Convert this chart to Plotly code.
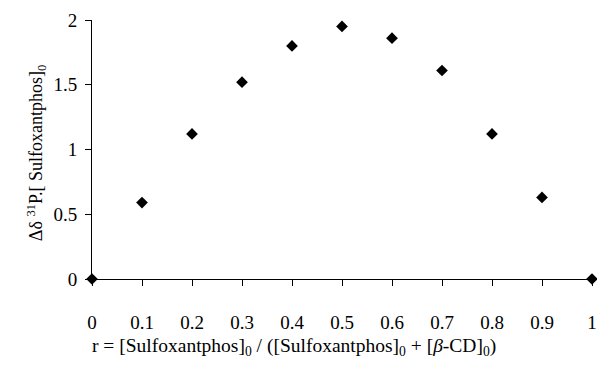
import plotly.graph_objects as go

r_values = [0, 0.1, 0.2, 0.3, 0.4, 0.5, 0.6, 0.7, 0.8, 0.9, 1.0]
delta_values = [0, 0.59, 1.12, 1.52, 1.80, 1.95, 1.86, 1.61, 1.12, 0.63, 0]
x_ticks = [0, 0.1, 0.2, 0.3, 0.4, 0.5, 0.6, 0.7, 0.8, 0.9, 1]
x_tick_labels = ["0", "0.1", "0.2", "0.3", "0.4", "0.5", "0.6", "0.7", "0.8", "0.9", "1"]
y_ticks = [0, 0.5, 1, 1.5, 2]
y_tick_labels = ["0", "0.5", "1", "1.5", "2"]

font_family = "Liberation Serif, Times New Roman, serif"

fig = go.Figure()
fig.add_trace(go.Scatter(
    x=r_values, y=delta_values, mode="markers",
    marker=dict(symbol="diamond", size=9, color="black"),
    cliponaxis=False, showlegend=False,
))

# the page body adds an 8px margin, so the figure is sized/offset to compensate
fig.update_layout(
    width=589, height=350,
    margin=dict(l=84, r=5, t=12, b=79, autoexpand=False),
    paper_bgcolor="white", plot_bgcolor="white",
    font=dict(family=font_family, size=19, color="black"),
    xaxis=dict(
        range=[0, 1], tickvals=x_ticks, ticktext=x_tick_labels,
        showline=True, linecolor="black", linewidth=1, zeroline=False,
        showgrid=False, ticks="outside", ticklen=6, tickcolor="black",
        ticklabelstandoff=20, tickfont=dict(size=19), automargin=False,
    ),
    yaxis=dict(
        range=[0, 2], tickvals=y_ticks, ticktext=y_tick_labels,
        showline=True, linecolor="black", linewidth=1, zeroline=False,
        showgrid=False, ticks="outside", ticklen=6, tickcolor="black",
        ticklabelstandoff=4, tickfont=dict(size=19), automargin=False,
    ),
    annotations=[
        dict(text="r = [Sulfoxantphos]<sub>0</sub> / ([Sulfoxantphos]<sub>0</sub> + [<i>β</i>-CD]<sub>0</sub>)",
             xref="paper", yref="paper", x=-0.004, y=-0.262, xanchor="left", yanchor="middle",
             showarrow=False, font=dict(size=19.5)),
        dict(text="Δδ <sup>31</sup>P.[ Sulfoxantphos]<sub>0</sub>",
             xref="paper", yref="paper", x=-0.112, y=0.486, xanchor="center", yanchor="middle",
             textangle=-90, showarrow=False, font=dict(size=18)),
    ],
)

fig.write_html("out.html")
